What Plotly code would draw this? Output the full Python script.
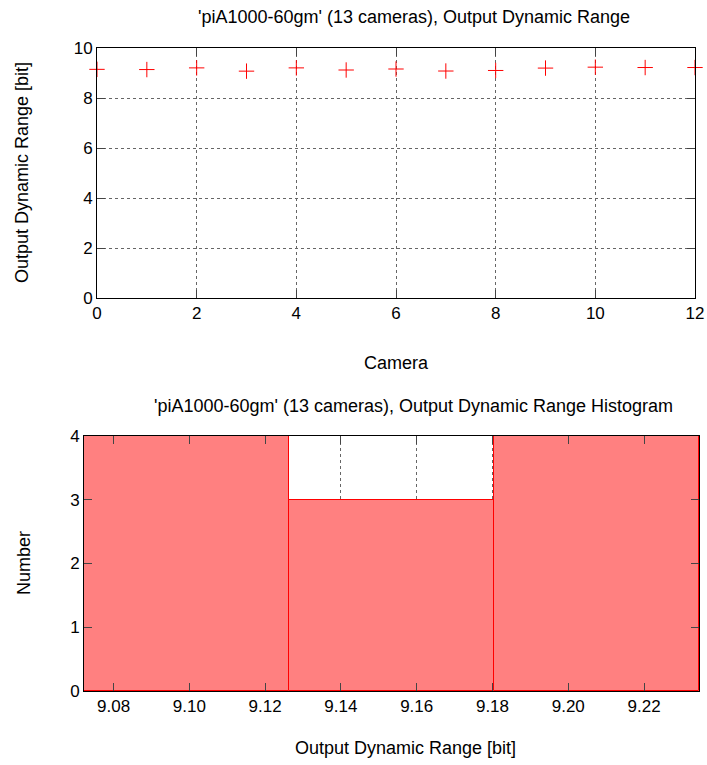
import plotly.graph_objects as go

cameras = list(range(13))
dyn_range = [9.146, 9.138, 9.205, 9.074, 9.205, 9.120, 9.160, 9.079, 9.101, 9.197, 9.233, 9.219, 9.219]
hist_start = 9.0722
hist_end = 9.2345
hist_size = 0.05408

title_top = "'piA1000-60gm' (13 cameras), Output Dynamic Range"
title_bot = "'piA1000-60gm' (13 cameras), Output Dynamic Range Histogram"

FONT = "Liberation Sans, Arial, sans-serif"
W, H = 707, 765

def px(x):
    return x / W

def py(y):
    return 1 - y / H

fig = go.Figure()

fig.add_trace(go.Scatter(
    x=cameras, y=dyn_range, mode="markers",
    marker=dict(symbol="cross-thin-open", size=11, color="red",
                line=dict(color="red", width=1)),
    cliponaxis=False, xaxis="x", yaxis="y", showlegend=False,
))

fig.add_trace(go.Histogram(
    x=dyn_range,
    xbins=dict(start=hist_start, end=hist_end, size=hist_size),
    marker=dict(color="#ff8080", line=dict(color="red", width=1)),
    xaxis="x2", yaxis="y2", showlegend=False,
))

axis_common = dict(
    showline=True, linecolor="black", linewidth=1, mirror="allticks",
    ticks="inside", ticklen=8, tickcolor="#444", tickwidth=1,
    showgrid=True, gridcolor="#666", griddash="dot", gridwidth=1,
    zeroline=False, automargin=False,
    tickfont=dict(family=FONT, size=17, color="black"),
)

fig.update_layout(
    width=W, height=H,
    margin=dict(l=0, r=0, t=0, b=0),
    paper_bgcolor="white", plot_bgcolor="white",
    font=dict(family=FONT, color="black"),
    xaxis=dict(domain=[px(97), px(695)], anchor="y", range=[0, 12],
               tick0=0, dtick=2, **axis_common),
    yaxis=dict(domain=[py(298), py(48)], anchor="x", range=[0, 10],
               tick0=0, dtick=2, **axis_common),
    xaxis2=dict(domain=[px(84), px(699)], anchor="y2",
                range=[hist_start, hist_end], tick0=9.08, dtick=0.02,
                tickformat=".2f", **axis_common),
    yaxis2=dict(domain=[py(691), py(436)], anchor="x2", range=[0, 4],
                tick0=0, dtick=1, **axis_common),
    bargap=0,
)

ann_font = dict(family=FONT, size=18, color="black")
annotations = [
    dict(text=title_top, x=px(414), y=py(17)),
    dict(text=title_bot, x=px(413), y=py(406)),
    dict(text="Camera", x=px(397), y=py(363)),
    dict(text="Output Dynamic Range [bit]", x=px(405), y=py(748)),
    dict(text="Output Dynamic Range [bit]", x=px(22), y=py(173), textangle=-90),
    dict(text="Number", x=px(24), y=py(563), textangle=-90),
]
for a in annotations:
    fig.add_annotation(xref="paper", yref="paper", showarrow=False,
                       xanchor="center", yanchor="middle", font=ann_font, **a)

fig.write_html(
    "out.html",
    config={"displayModeBar": False},
    post_script="document.body.style.margin='0';document.body.style.overflow='hidden';",
)
